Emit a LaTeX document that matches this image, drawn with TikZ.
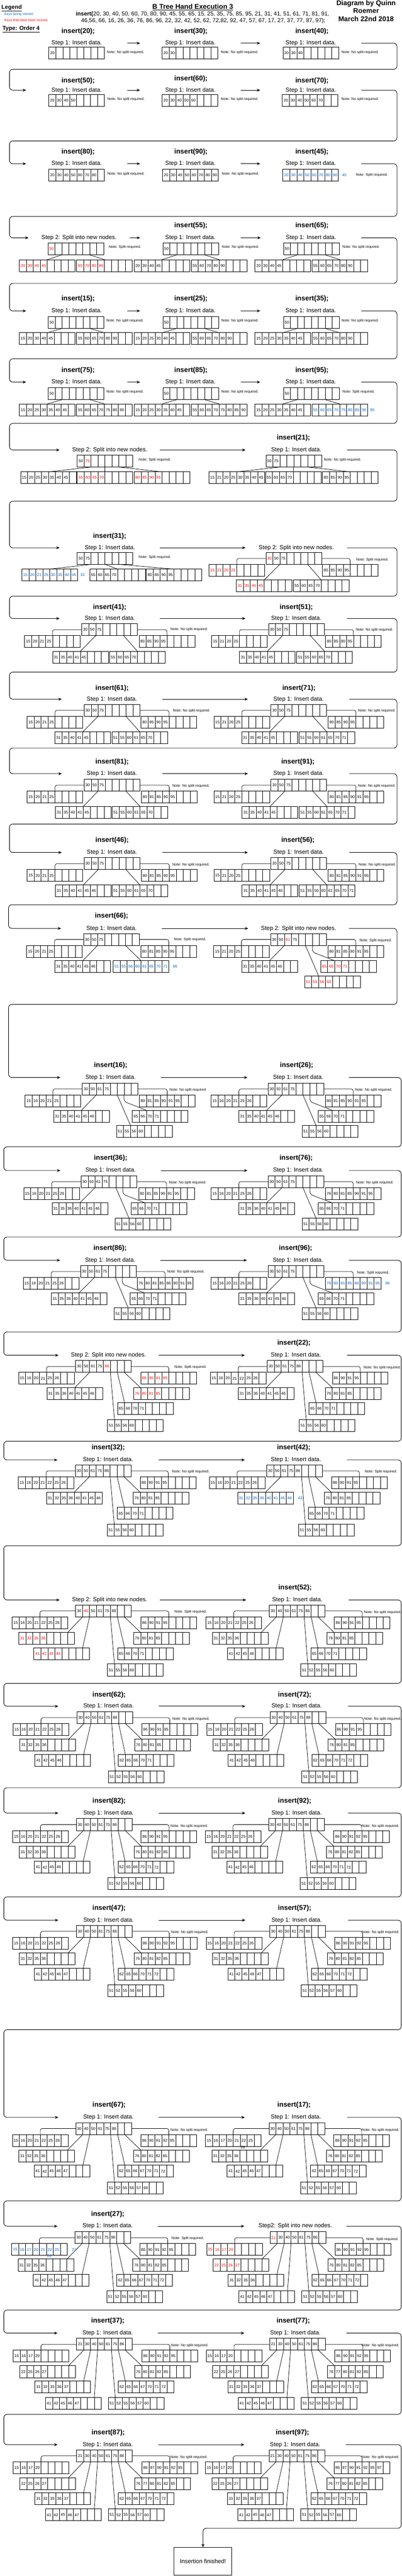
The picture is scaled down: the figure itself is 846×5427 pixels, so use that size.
\documentclass[tikz,border=0pt]{standalone}
\usepackage{fontspec}
\setmainfont{Liberation Sans}
\usetikzlibrary{calc,arrows.meta}
\definecolor{kred}{RGB}{255,0,0}
\definecolor{kblue}{RGB}{0,102,204}
\newcommand\keyr[1]{\textcolor{kred}{#1}}
\def\mycw{14.65}
\newcommand\mybn[5][black]{%
  \node[bn] (#2) at (#3,#4) {};
  \foreach \i in {1,...,7}{\draw[cellline] ($(#2.north west)+(\i*\mycw,0)$) -- ($(#2.south west)+(\i*\mycw,0)$);}
  \foreach \k [count=\j] in {#5}{\node[keyt,text=#1] at ($(#2.west)+(\j*\mycw-0.5*\mycw,0)$) {\k};}%
}
\newcommand\mylk[4]{\draw[link] ($(#1.south west)+(#2*\mycw,0)$) -- ($(#3.north west)+(#4*\mycw,0)$);}
\newcommand\mybl[3]{\draw[link,rounded corners=4pt] (#1.west) -| ($(#2.north west)+(#3*\mycw,0)$);}
\newcommand\mybr[3]{\draw[link,rounded corners=4pt] (#1.east) -| ($(#2.north west)+(#3*\mycw,0)$);}
\newcommand\mylc[4]{\draw[link,rounded corners=6pt] ($(#1.south west)+(#2*\mycw,0)$) -- ++(0,14) -- ($(#3.north west)+(#4*\mycw,0)$);}
\newcommand\mystep[5]{\node[stp,minimum width={#3-#2}] (#1) at ({(#2+#3)/2},#4) {#5};}
\newcommand\myttl[4]{\node[ttl] (#1) at (#2,#3) {#4};}
\newcommand\mynote[4]{\node[nte] (#1) at (#2,#3) {#4};}
\newcommand\myok{Note: No split required.}
\newcommand\mysplit{Note: Split required.}
\newcommand\mystepone{Step 1: Insert data.}
\newcommand\mysteptwo{Step 2: Split into new nodes.}
\newcommand\linkstwo[1]{\mylk{#1r}{2}{#1a}{4}\mylk{#1r}{6}{#1b}{4}}
\newcommand\linksthree[1]{\mylk{#1r}{2}{#1a}{4}\mylk{#1r}{4}{#1b}{4}\mylk{#1r}{6}{#1c}{4}}
\newcommand\linksfour[1]{\mybl{#1r}{#1a}{4}\mybr{#1r}{#1d}{4}\mylk{#1r}{2}{#1b}{4}\mylk{#1r}{6}{#1c}{4}}
\newcommand\linksfive[1]{\mybl{#1r}{#1a}{4}\mybr{#1r}{#1e}{4}\mylk{#1r}{2}{#1b}{4}\mylk{#1r}{5}{#1c}{2}\mylc{#1r}{6}{#1d}{2}}
\newcommand\linkssix[1]{\mybl{#1r}{#1a}{4}\mybr{#1r}{#1f}{4}\mylk{#1r}{2}{#1b}{4}\mylk{#1r}{5}{#1c}{1}\mylk{#1r}{6}{#1d}{1}\mylk{#1r}{7}{#1e}{1}}
\newcommand\linksseven[1]{\mybl{#1r}{#1a}{4}\mybr{#1r}{#1g}{4}\mylk{#1r}{1}{#1b}{7}\mylk{#1r}{2}{#1c}{7}\mylk{#1r}{5}{#1d}{1}\mylk{#1r}{6}{#1e}{1}\mylk{#1r}{7}{#1f}{1}}
\newcommand\linkseight[1]{\mybl{#1r}{#1a}{4}\mybr{#1r}{#1h}{4}\mylk{#1r}{1}{#1b}{7}\mylk{#1r}{2}{#1c}{7}\mylk{#1r}{3}{#1d}{7}\mylk{#1r}{5}{#1e}{1}\mylk{#1r}{6}{#1f}{1}\mylk{#1r}{7}{#1g}{1}}
\begin{document}
\begin{tikzpicture}[x=1pt,y=-1pt,
  bn/.style={draw,line width=0.9pt,minimum width=117.2pt,minimum height=25pt,inner sep=0pt,outer sep=0pt,anchor=north west},
  cellline/.style={line width=0.7pt},
  keyt/.style={font=\fontsize{8.3}{9}\selectfont,inner sep=0pt},
  ttl/.style={font=\bfseries\fontsize{14.5}{16}\selectfont,inner sep=0pt},
  stp/.style={font=\fontsize{12.4}{14}\selectfont,inner sep=0pt,outer sep=0pt,minimum height=12pt},
  nte/.style={font=\fontsize{7.6}{9}\selectfont,anchor=west,inner sep=0pt},
  link/.style={line width=0.8pt},
  flowl/.style={line width=1pt,-{Stealth[length=7pt,width=6pt]},rounded corners=7pt}]
\useasboundingbox (0,0) rectangle (846,5427);
\fill[white] (0,0) rectangle (846,5427);
% ---------- header ----------
\node[anchor=west,inner sep=0pt,font=\bfseries\fontsize{12}{14}\selectfont] (leg) at (3,17) {\underline{Legend}};
\node[anchor=west,inner sep=0pt,font=\fontsize{7.3}{9}\selectfont,text=kblue] (lg1) at (9,30) {Keys being moved.};
\node[anchor=west,inner sep=0pt,font=\fontsize{7.3}{9}\selectfont,text=kred] (lg2) at (9,43) {Keys that have been moved.};
\node[anchor=west,inner sep=0pt,font=\bfseries\fontsize{12}{14}\selectfont] (typ) at (5,61) {\underline{Type: Order 4}};
\node[inner sep=0pt,font=\bfseries\fontsize{14.5}{16}\selectfont] (ttlm) at (406,15) {\underline{B Tree Hand Execution 3}};
\node[inner sep=0pt,font=\fontsize{12}{14}\selectfont] (seq1) at (426.5,30) {\textbf{insert(}20, 30, 40, 50, 60, 70, 80, 90, 45, 55, 65, 15, 25, 35, 75, 85, 95, 21, 31, 41, 51, 61, 71, 81, 91,};
\node[inner sep=0pt,font=\fontsize{12}{14}\selectfont] (seq2) at (428,44) {46,56, 66, 16, 26, 36, 76, 86, 96, 22, 32, 42, 52, 62, 72,82, 92, 47, 57, 67, 17, 27, 37, 77, 87, 97);};
\node[inner sep=0pt,align=center,font=\bfseries\fontsize{14.5}{17}\selectfont] (auth) at (771,23) {Diagram by Quinn\\Roemer\\March 22nd 2018};
% ---------- row 1 ----------
\myttl{t1a}{164.5}{66}{insert(20);}\myttl{t1b}{402}{66}{insert(30);}\myttl{t1c}{657}{66}{insert(40);}
\mystep{s1a}{55}{268}{91}{\mystepone}\mystep{s1b}{295}{507}{91}{\mystepone}\mystep{s1c}{548}{761}{91}{\mystepone}
\mybn{q1a}{103}{99}{20}\mybn{q1b}{341.5}{99}{20,30}\mybn{q1c}{596}{99}{20,30,40}
\mynote{m1a}{225}{110}{\myok}\mynote{m1b}{465}{110}{\myok}\mynote{m1c}{719}{110}{\myok}
\draw[flowl] (s1a.east) -- (s1b.west);\draw[flowl] (s1b.east) -- (s1c.west);
% ---------- row 2 ----------
\myttl{t2a}{164.5}{170}{insert(50);}\myttl{t2b}{402}{166}{insert(60);}\myttl{t2c}{657}{170}{insert(70);}
\mystep{s2a}{55}{268}{190}{\mystepone}\mystep{s2b}{295}{507}{190}{\mystepone}\mystep{s2c}{548}{761}{190}{\mystepone}
\mybn{q2a}{102.6}{199}{20,30,40,50}\mybn{q2b}{341.5}{199}{20,30,40,50,60}\mybn{q2c}{594.6}{199}{20,30,40,50,60,70}
\mynote{m2a}{226}{209}{\myok}\mynote{m2b}{465}{209}{\myok}\mynote{m2c}{719}{209}{\myok}
\draw[flowl] (s2a.east) -- (s2b.west);\draw[flowl] (s2b.east) -- (s2c.west);
\draw[flowl] (s1c.east) -| (836,146) -| (20,190) -- (s2a.west);
% ---------- row 3 ----------
\myttl{t3a}{164.5}{320}{insert(80);}\myttl{t3b}{402}{320}{insert(90);}\myttl{t3c}{657}{320}{insert(45);}
\mystep{s3a}{55}{268}{345}{\mystepone}\mystep{s3b}{295}{507}{345}{\mystepone}\mystep{s3c}{548}{761}{345}{\mystepone}
\mybn{q3a}{103}{356}{20,30,40,50,60,70,80}\mybn{q3b}{342.6}{356}{20,30,40,50,60,70,80,90}\mybn[kblue]{q3c}{595.7}{356}{20,30,40,50,60,70,80,90}
\node[keyt,text=kblue] (o3c) at (725,368.5) {45};
\mynote{m3a}{226}{366}{\myok}\mynote{m3b}{467}{366}{\myok}\mynote{m3c}{749}{369}{\mysplit}
\draw[flowl] (s3a.east) -- (s3b.west);\draw[flowl] (s3b.east) -- (s3c.west);
\draw[flowl] (s2c.east) -| (836,297) -| (20,345) -- (s3a.west);
% ---------- row 4 ----------
\myttl{t4b}{402}{475}{insert(55);}\myttl{t4c}{657}{475}{insert(65);}
\mystep{s4a}{60}{273}{501}{\mysteptwo}\mystep{s4b}{295}{507}{501}{\mystepone}\mystep{s4c}{549}{761}{501}{\mystepone}
\mybn[kred]{q4ar}{101}{512}{50}\mybn[kred]{q4aa}{41}{547}{20,30,40,45}\mybn[kred]{q4ab}{161.5}{547}{60,70,80,90}\linkstwo{q4a}
\mybn{q4br}{343}{512}{50}\mybn{q4ba}{282.6}{547}{20,30,40,45}\mybn{q4bb}{403}{547}{55,60,70,80,90}\linkstwo{q4b}
\mybn{q4cr}{597}{512}{50}\mybn{q4ca}{537}{547}{20,30,40,45}\mybn{q4cb}{657}{547}{55,60,65,70,80,90}\linkstwo{q4c}
\mynote{m4a}{229}{521}{\mysplit}\mynote{m4b}{467}{521}{\myok}\mynote{m4c}{721}{521}{\myok}
\draw[flowl] (s4a.east) -- (s4b.west);\draw[flowl] (s4b.east) -- (s4c.west);
\draw[flowl] (s3c.east) -| (836,456) -| (20,501) -- (s4a.west);
% ---------- row 5 ----------
\myttl{t5a}{164.5}{630}{insert(15);}\myttl{t5b}{402}{630}{insert(25);}\myttl{t5c}{657}{630}{insert(35);}
\mystep{s5a}{55}{268}{655}{\mystepone}\mystep{s5b}{295}{507}{655}{\mystepone}\mystep{s5c}{548}{761}{655}{\mystepone}
\mybn{q5ar}{101.5}{667}{50}\mybn{q5aa}{41}{701}{15,20,30,40,45}\mybn{q5ab}{161.5}{701}{55,60,65,70,80,90}\linkstwo{q5a}
\mybn{q5br}{343}{667}{50}\mybn{q5ba}{282.6}{701}{15,20,25,30,40,45}\mybn{q5bb}{403}{701}{55,60,65,70,80,90}\linkstwo{q5b}
\mybn{q5cr}{597}{667}{50}\mybn{q5ca}{537}{701}{15,20,25,30,35,40,45}\mybn{q5cb}{657}{701}{55,60,65,70,80,90}\linkstwo{q5c}
\mynote{m5a}{224}{676}{\myok}\mynote{m5b}{466}{676}{\myok}\mynote{m5c}{719}{676}{\myok}
\draw[flowl] (s5a.east) -- (s5b.west);\draw[flowl] (s5b.east) -- (s5c.west);
\draw[flowl] (s4c.east) -| (836,597) -| (20,655) -- (s5a.west);
% ---------- row 6 ----------
\myttl{t6a}{164.5}{780}{insert(75);}\myttl{t6b}{402}{780}{insert(85);}\myttl{t6c}{657}{780}{insert(95);}
\mystep{s6a}{55}{268}{805}{\mystepone}\mystep{s6b}{295}{507}{805}{\mystepone}\mystep{s6c}{548}{761}{805}{\mystepone}
\mybn{q6ar}{101.5}{817}{50}\mybn{q6aa}{41}{851}{15,20,25,30,35,40,45}\mybn{q6ab}{161.5}{851}{55,60,65,70,75,80,90}\linkstwo{q6a}
\mybn{q6br}{343}{817}{50}\mybn{q6ba}{282.6}{851}{15,20,25,30,35,40,45}\mybn{q6bb}{403}{851}{55,60,65,70,75,80,85,90}\linkstwo{q6b}
\mybn{q6cr}{597}{817}{50}\mybn{q6ca}{537}{851}{15,20,25,30,35,40,45}\mybn[kblue]{q6cb}{657}{851}{55,60,65,70,75,80,85,90}\linkstwo{q6c}
\node[keyt,text=kblue] (o6c) at (784,863.5) {95};
\mynote{m6a}{224}{826}{\myok}\mynote{m6b}{466}{826}{\myok}\mynote{m6c}{721}{826}{\mysplit}
\draw[flowl] (s6a.east) -- (s6b.west);\draw[flowl] (s6b.east) -- (s6c.west);
\draw[flowl] (s5c.east) -| (836,756) -| (20,805) -- (s6a.west);
% ---------- row 7 ----------
\myttl{t7b}{618}{923}{insert(21);}
\mystep{s7a}{125.5}{337}{948}{\mysteptwo}\mystep{s7b}{517}{731}{948}{\mystepone}
\mybn{q7ar}{162.6}{959}{50,\keyr{75}}\mybn{q7aa}{43.6}{994}{15,20,25,30,35,40,45}\mybn[kred]{q7ab}{162.6}{994}{55,60,65,70}\mybn[kred]{q7ac}{282.6}{994}{80,85,90,95}\linksthree{q7a}
\mybn{q7br}{560}{959}{50,75}\mybn{q7ba}{440}{994}{15,21,20,25,30,35,40,45}\mybn{q7bb}{559}{994}{55,60,65,70}\mybn{q7bc}{679}{994}{80,85,90,95}\linksthree{q7b}
\mynote{m7a}{292}{969}{\mysplit}\mynote{m7b}{682}{969}{\myok}
\draw[flowl] (s7a.east) -- (s7b.west);
\draw[flowl] (s6c.east) -| (836,892) -| (20,948) -- (s7a.west);
% ---------- row 8 ----------
\myttl{t8a}{231}{1130}{insert(31);}
\mystep{s8a}{125.5}{337}{1154}{\mystepone}\mystep{s8b}{517}{731}{1154}{\mysteptwo}
\mybn{q8ar}{162.6}{1164}{50,75}\mybn[kblue]{q8aa}{46}{1199}{15,20,21,25,30,35,40,45}\mybn{q8ab}{189}{1199}{55,60,65,70}\mybn{q8ac}{308}{1199}{80,85,90,95}\linksthree{q8a}
\node[keyt,text=kblue] (o8a) at (174,1211.5) {31};
\mybn{q8br}{560}{1164}{\keyr{30},50,75}\mybn[kred]{q8ba}{440}{1189}{15,21,20,25}\mybn[kred]{q8bb}{498}{1221.5}{31,35,40,45}\mybn{q8bc}{617.6}{1221.5}{55,60,65,70}\mybn{q8bd}{679}{1189}{80,85,90,95}\linksfour{q8b}
\mynote{m8a}{292}{1174}{\mysplit}\mynote{m8b}{750}{1179}{\mysplit}
\draw[flowl] (s8a.east) -- (s8b.west);
\draw[flowl] (s7b.east) -| (836,1056) -| (20,1154) -- (s8a.west);
% ---------- row 9 ----------
\myttl{t9a}{231}{1280}{insert(41);}\myttl{t9b}{624}{1280}{insert(51);}
\mystep{s9a}{125.5}{337}{1303}{\mystepone}\mystep{s9b}{517}{731}{1303}{\mystepone}
\mybn{q9ar}{172.4}{1314}{30,50,75}\mybn{q9aa}{52}{1339}{15,20,21,25}\mybn{q9ab}{110.7}{1372}{31,35,40,41,45}\mybn{q9ac}{230.8}{1372}{55,60,65,70}\mybn{q9ad}{293}{1339}{80,85,90,95}\linksfour{q9a}
\mybn{q9br}{565.7}{1314}{30,50,75}\mybn{q9ba}{445.7}{1339}{15,21,20,25}\mybn{q9bb}{504.6}{1372}{31,35,40,41,45}\mybn{q9bc}{624.7}{1372}{51,55,60,65,70}\mybn{q9bd}{685.8}{1339}{80,85,90,95}\linksfour{q9b}
\mynote{m9a}{359}{1326}{\myok}\mynote{m9b}{749}{1327}{\myok}
\draw[flowl] (s9a.east) -- (s9b.west);
\draw[flowl] (s8b.east) -| (836,1256) -| (20,1303) -- (s9a.west);
% ---------- row 10 ----------
\myttl{t10a}{236}{1450}{insert(61);}\myttl{t10b}{629.6}{1450}{insert(71);}
\mystep{s10a}{130}{341.5}{1473}{\mystepone}\mystep{s10b}{522}{735.4}{1473}{\mystepone}
\mybn{q10ar}{177.3}{1484}{30,50,75}\mybn{q10aa}{57.3}{1509}{15,20,21,25}\mybn{q10ab}{115.7}{1541.7}{31,35,40,41,45}\mybn{q10ac}{235.7}{1541.7}{51,55,60,61,65,70}\mybn{q10ad}{297.3}{1509}{80,85,90,95}\linksfour{q10a}
\mybn{q10br}{570.7}{1484}{30,50,75}\mybn{q10ba}{450.6}{1509}{15,21,20,25}\mybn{q10bb}{509}{1541.7}{31,35,40,41,45}\mybn{q10bc}{629.6}{1541.7}{51,55,60,61,65,70,71}\mybn{q10bd}{691.2}{1509}{80,85,90,95}\linksfour{q10b}
\mynote{m10a}{364}{1498}{\myok}\mynote{m10b}{754}{1497}{\myok}
\draw[flowl] (s10a.east) -- (s10b.west);
\draw[flowl] (s9b.east) -| (836,1416) -| (20,1473) -- (s10a.west);
% ---------- row 11 ----------
\myttl{t11a}{236}{1605}{insert(81);}\myttl{t11b}{627.4}{1605}{insert(91);}
\mystep{s11a}{130}{341.5}{1630}{\mystepone}\mystep{s11b}{522}{735.4}{1630}{\mystepone}
\mybn{q11ar}{177.3}{1641.7}{30,50,75}\mybn{q11aa}{57.3}{1666.7}{15,20,21,25}\mybn{q11ab}{116.7}{1699}{31,35,40,41,45}\mybn{q11ac}{236.2}{1699}{51,55,60,61,65,70}\mybn{q11ad}{297.9}{1666.7}{80,81,85,90,95}\linksfour{q11a}
\mybn{q11br}{570.7}{1641.7}{30,50,75}\mybn{q11ba}{450.6}{1666.7}{15,21,20,25}\mybn{q11bb}{510}{1699}{31,35,40,41,45}\mybn{q11bc}{630}{1699}{51,55,60,61,65,70,71}\mybn{q11bd}{691.2}{1666.7}{80,81,85,90,91,95}\linksfour{q11b}
\mynote{m11a}{362.8}{1656}{\myok}\mynote{m11b}{754}{1656}{\myok}
\draw[flowl] (s11a.east) -- (s11b.west);
\draw[flowl] (s10b.east) -| (836,1576) -| (20,1630) -- (s11a.west);
% ---------- row 12 ----------
\myttl{t12a}{236}{1770}{insert(46);}\myttl{t12b}{627.4}{1770}{insert(56);}
\mystep{s12a}{130}{341.5}{1796}{\mystepone}\mystep{s12b}{522}{735.4}{1796}{\mystepone}
\mybn{q12ar}{177.3}{1807}{30,50,75}\mybn{q12aa}{57.3}{1832}{15,20,21,25}\mybn{q12ab}{116.7}{1864.5}{31,35,40,41,45,46}\mybn{q12ac}{236.2}{1864.5}{51,55,60,61,65,70}\mybn{q12ad}{297.9}{1832}{80,81,85,90,95}\linksfour{q12a}
\mybn{q12br}{570.7}{1807}{30,50,75}\mybn{q12ba}{450.6}{1832}{15,21,20,25}\mybn{q12bb}{510}{1864.5}{31,35,40,41,45,46}\mybn{q12bc}{630}{1864.5}{51,55,56,60,61,65,70,71}\mybn{q12bd}{691.2}{1832}{80,81,85,90,91,95}\linksfour{q12b}
\mynote{m12a}{362.8}{1822}{\myok}\mynote{m12b}{755}{1822}{\myok}
\draw[flowl] (s12a.east) -- (s12b.west);
\draw[flowl] (s11b.east) -| (836,1736) -| (20,1796) -- (s12a.west);
% ---------- row 13 ----------
\myttl{t13a}{235}{1930}{insert(66);}
\mystep{s13a}{128.7}{341}{1956}{\mystepone}\mystep{s13b}{522.6}{735}{1956}{\mysteptwo}
\mybn{q13ar}{176.2}{1966.7}{30,50,75}\mybn{q13aa}{56.2}{1991.7}{15,20,21,25}\mybn{q13ab}{115.7}{2024}{31,35,40,41,45,46}\mybn[kblue]{q13ac}{238.4}{2024}{51,55,56,60,61,65,70,71}\mybn{q13ad}{296.8}{1991.7}{80,81,85,90,95}\linksfour{q13a}
\node[keyt,text=kblue] (o13a) at (369,2036.5) {66};
\mybn{q13br}{570}{1966.7}{30,50,\keyr{61},75}\mybn{q13ba}{450}{1991.7}{15,21,20,25}\mybn{q13bb}{509}{2024}{31,35,40,41,45,46}\mybn[kred]{q13bc}{641.6}{2056}{51,55,56,60}\mybn[kred]{q13bd}{675.4}{2024}{65,66,70,71}\mybn{q13be}{690.7}{1991.7}{80,81,85,90,91,95}\linksfive{q13b}
\mynote{m13a}{366}{1979}{\mysplit}\mynote{m13b}{757}{1982}{\mysplit}
\draw[flowl] (s13a.east) -- (s13b.west);
\draw[flowl] (s12b.east) -| (836,1906) -| (18,1956) -- (s13a.west);
% ---------- row 14 ----------
\myttl{t14a}{233}{2245}{insert(16);}\myttl{t14b}{624.6}{2245}{insert(26);}
\mystep{s14a}{127}{338.8}{2270}{\mystepone}\mystep{s14b}{521}{735}{2270}{\mystepone}
\mybn{q14ar}{173.5}{2281.7}{30,50,61,75}\mybn{q14aa}{53}{2306.7}{15,16,20,21,25}\mybn{q14ab}{113}{2339}{31,35,40,41,45,46}\mybn{q14ac}{245.5}{2370.7}{51,55,56,60}\mybn{q14ad}{278.8}{2339}{65,66,70,71}\mybn{q14ae}{293.5}{2306.7}{80,81,85,90,91,95}\linksfive{q14a}
\mybn{q14br}{564.7}{2281.7}{30,50,61,75}\mybn{q14ba}{444.6}{2306.7}{15,16,20,21,25,26}\mybn{q14bb}{503}{2339}{31,35,40,41,45,46}\mybn{q14bc}{636.1}{2370.7}{51,55,56,60}\mybn{q14bd}{670}{2339}{65,66,70,71}\mybn{q14be}{685.2}{2306.7}{80,81,85,90,91,95}\linksfive{q14b}
\mynote{m14a}{356.8}{2296}{\myok}\mynote{m14b}{747.4}{2296}{\myok}
\draw[flowl] (s14a.east) -- (s14b.west);
\draw[flowl] (s13b.east) -| (836,2116) -| (18,2270) -- (s14a.west);
% ---------- row 15 ----------
\myttl{t15a}{233}{2440}{insert(36);}\myttl{t15b}{623.6}{2440}{insert(76);}
\mystep{s15a}{127}{338.8}{2466}{\mystepone}\mystep{s15b}{521}{735}{2466}{\mystepone}
\mybn{q15ar}{170.8}{2477}{30,50,61,75}\mybn{q15aa}{50.2}{2502}{15,16,20,21,25,26}\mybn{q15ab}{109.7}{2534}{31,35,36,40,41,45,46}\mybn{q15ac}{242.2}{2566}{51,55,56,60}\mybn{q15ad}{276}{2534}{65,66,70,71}\mybn{q15ae}{291.9}{2502}{80,81,85,90,91,95}\linksfive{q15a}
\mybn{q15br}{564.7}{2477}{30,50,61,75}\mybn{q15ba}{444.6}{2502}{15,16,20,21,25,26}\mybn{q15bb}{503}{2534}{31,35,36,40,41,45,46}\mybn{q15bc}{636.1}{2566}{51,55,56,60}\mybn{q15bd}{670}{2534}{65,66,70,71}\mybn{q15be}{685.2}{2502}{76,80,81,85,90,91,95}\linksfive{q15b}
\mynote{m15a}{355.7}{2492}{\myok}\mynote{m15b}{750}{2492}{\myok}
\draw[flowl] (s15a.east) -- (s15b.west);
\draw[flowl] (s14b.east) -| (845,2416) -| (8,2466) -- (s15a.west);
% ---------- row 16 ----------
\myttl{t16a}{231.8}{2630}{insert(86);}\myttl{t16b}{622.5}{2630}{insert(96);}
\mystep{s16a}{126.6}{337.7}{2655}{\mystepone}\mystep{s16b}{520}{735}{2655}{\mystepone}
\mybn{q16ar}{169.7}{2666.3}{30,50,61,75}\mybn{q16aa}{49.1}{2691.3}{15,16,20,21,25,26}\mybn{q16ab}{108}{2723.7}{31,35,36,40,41,45,46}\mybn{q16ac}{240.6}{2755.3}{51,55,56,60}\mybn{q16ad}{274.4}{2723.7}{65,66,70,71}\mybn{q16ae}{289.1}{2691.3}{76,80,81,85,86,90,91,95}\linksfive{q16a}
\mybn{q16br}{564.7}{2666.3}{30,50,61,75}\mybn{q16ba}{444.6}{2691.3}{15,16,20,21,25,26}\mybn{q16bb}{503}{2723.7}{31,35,36,40,41,45,46}\mybn{q16bc}{636.1}{2755.3}{51,55,56,60}\mybn{q16bd}{670}{2723.7}{65,66,70,71}\mybn[kblue]{q16be}{685.2}{2691.3}{76,80,81,85,86,90,91,95}\linksfive{q16b}
\node[keyt,text=kblue] (o16b) at (816,2703.8) {96};
\mynote{m16a}{351.9}{2679}{\myok}\mynote{m16b}{751.8}{2682}{\mysplit}
\draw[flowl] (s16a.east) -- (s16b.west);
\draw[flowl] (s15b.east) -| (845,2606) -| (8,2655) -- (s16a.west);
% ---------- row 17 ----------
\myttl{t17b}{619}{2830}{insert(22);}
\mystep{s17a}{123.3}{333.9}{2855.3}{\mysteptwo}\mystep{s17b}{515.5}{731}{2855.3}{\mystepone}
\mybn{q17ar}{159.3}{2866.3}{30,50,61,75,\keyr{86}}\mybn{q17aa}{39.3}{2891.3}{15,16,20,21,25,26}\mybn{q17ab}{98.7}{2923.7}{31,35,36,40,41,45,46}\mybn{q17ac}{226.4}{2990.7}{51,55,56,60}\mybn{q17ad}{247.7}{2955.3}{65,66,70,71}\mybn[kred]{q17ae}{281.5}{2923.7}{76,80,81,85}\mybn[kred]{q17af}{296.8}{2891.3}{86,90,91,95}\linkssix{q17a}
\mybn{q17br}{563}{2866.3}{30,50,61,75,86}\mybn{q17ba}{443}{2891.3}{15,16,20,21,22,25,26}\mybn{q17bb}{501.9}{2923.7}{31,35,36,40,41,45,46}\mybn{q17bc}{630.1}{2990.7}{51,55,56,60}\mybn{q17bd}{650.9}{2955.3}{65,66,70,71}\mybn{q17be}{685.2}{2923.7}{76,80,81,85}\mybn{q17bf}{700}{2891.3}{86,90,91,95}\linkssix{q17b}
\mynote{m17a}{367.2}{2880.7}{\mysplit}\mynote{m17b}{765.4}{2881}{\myok}
\draw[flowl] (s17a.east) -- (s17b.west);
\draw[flowl] (s16b.east) -| (845,2806) -| (8,2855.3) -- (s17a.west);
% ---------- row 18 ----------
\myttl{t18a}{228}{3050.3}{insert(32);}\myttl{t18b}{618.6}{3050.3}{insert(42);}
\mystep{s18a}{121}{333.9}{3075.7}{\mystepone}\mystep{s18b}{515.5}{731}{3075.7}{\mystepone}
\mybn{q18ar}{158.8}{3086.3}{30,50,61,75,86}\mybn{q18aa}{38.7}{3111.3}{15,16,20,21,22,25,26}\mybn{q18ab}{97.7}{3143.7}{31,32,35,36,40,41,45,46}\mybn{q18ac}{225.9}{3210.7}{51,55,56,60}\mybn{q18ad}{247.1}{3175.7}{65,66,70,71}\mybn{q18ae}{280.4}{3143.7}{76,80,81,85}\mybn{q18af}{295.7}{3111.3}{86,90,91,95}\linkssix{q18a}
\mybn{q18br}{561.9}{3086.3}{30,50,61,75,86}\mybn{q18ba}{440.8}{3111.3}{15,16,20,21,22,25,26}\mybn[kblue]{q18bb}{500.3}{3143.7}{31,32,35,36,40,41,45,46}\mybn{q18bc}{628.5}{3210.7}{51,55,56,60}\mybn{q18bd}{649.2}{3175.7}{65,66,70,71}\mybn{q18be}{683}{3143.7}{76,80,81,85}\mybn{q18bf}{698.3}{3111.3}{86,90,91,95}\linkssix{q18b}
\node[keyt,text=kblue] (o18b) at (632,3156) {42};
\mynote{m18a}{362.2}{3101}{\myok}\mynote{m18b}{768.1}{3101}{\mysplit}
\draw[flowl] (s18a.east) -- (s18b.west);
\draw[flowl] (s17b.east) -| (845,3036.3) -| (8,3075.7) -- (s18a.west);
% ---------- row 19 ----------
\myttl{t19b}{621.4}{3345}{insert(52);}
\mystep{s19a}{125.5}{336.6}{3370.7}{\mysteptwo}\mystep{s19b}{518.3}{734}{3370.7}{\mystepone}
\mybn{q19ar}{159.3}{3381.3}{30,\keyr{40},50,61,75,86}\mybn{q19aa}{25.6}{3406.3}{15,16,20,21,22,25,26}\mybn[kred]{q19ab}{39.8}{3439.3}{31,32,35,36}\mybn[kred]{q19ac}{71.5}{3471.3}{41,42,45,46}\mybn{q19ad}{226.4}{3505.7}{51,55,56,60}\mybn{q19ae}{247.7}{3471.3}{65,66,70,71}\mybn{q19af}{281.5}{3439.3}{76,80,81,85}\mybn{q19ag}{296.8}{3406.3}{86,90,91,95}\linksseven{q19a}
\mybn{q19br}{567.4}{3381.3}{30,40,50,61,75,86}\mybn{q19ba}{433.7}{3406.3}{15,16,20,21,22,25,26}\mybn{q19bb}{447.4}{3439.3}{31,32,35,36}\mybn{q19bc}{479}{3471.3}{41,42,45,46}\mybn{q19bd}{633.4}{3505.7}{51,52,55,56,60}\mybn{q19be}{654.7}{3471.3}{65,66,70,71}\mybn{q19bf}{689}{3439.3}{76,80,81,85}\mybn{q19bg}{704.3}{3406.3}{86,90,91,95}\linksseven{q19b}
\mynote{m19a}{367.2}{3396}{\mysplit}\mynote{m19b}{766.5}{3397}{\myok}
\draw[flowl] (s19a.east) -- (s19b.west);
\draw[flowl] (s18b.east) -| (845,3256.3) -| (8,3370.7) -- (s19a.west);
% ---------- row 20 ----------
\myttl{t20a}{229.7}{3570.7}{insert(62);}\myttl{t20b}{620.6}{3570.7}{insert(72);}
\mystep{s20a}{122.7}{334.4}{3594.7}{\mystepone}\mystep{s20b}{516.6}{733}{3594.7}{\mystepone}
\mybn{q20ar}{162}{3606.3}{30,40,50,61,75,86}\mybn{q20aa}{27.8}{3631.3}{15,16,20,21,22,25,26}\mybn{q20ab}{42}{3664}{31,32,35,36}\mybn{q20ac}{73.6}{3696}{41,42,45,46}\mybn{q20ad}{228}{3730.7}{51,52,55,56,60}\mybn{q20ae}{249.3}{3696}{62,65,66,70,71}\mybn{q20af}{283.7}{3664}{76,80,81,85}\mybn{q20ag}{299}{3631.3}{86,90,91,95}\linksseven{q20a}
\mybn{q20br}{569}{3606.3}{30,40,50,61,75,86}\mybn{q20ba}{435.4}{3631.3}{15,16,20,21,22,25,26}\mybn{q20bb}{449}{3664}{31,32,35,36}\mybn{q20bc}{480.6}{3696}{41,42,45,46}\mybn{q20bd}{635.6}{3730.7}{51,52,55,56,60}\mybn{q20be}{656.8}{3696}{62,65,66,70,71,72}\mybn{q20bf}{691.2}{3664}{76,80,81,85}\mybn{q20bg}{706.5}{3631.3}{86,90,91,95}\linksseven{q20b}
\mynote{m20a}{362.8}{3621.7}{\myok}\mynote{m20b}{766.5}{3621.7}{\myok}
\draw[flowl] (s20a.east) -- (s20b.west);
\draw[flowl] (s19b.east) -| (845,3546.3) -| (8,3594.7) -- (s20a.west);
% ---------- row 21 ----------
\myttl{t21a}{229.7}{3795}{insert(82);}\myttl{t21b}{620.6}{3795}{insert(92);}
\mystep{s21a}{122.7}{334.4}{3819.7}{\mystepone}\mystep{s21b}{516.6}{733}{3819.7}{\mystepone}
\mybn{q21ar}{161}{3831.3}{30,40,50,61,75,86}\mybn{q21aa}{26.7}{3856.3}{15,16,20,21,22,25,26}\mybn{q21ab}{40.9}{3889.3}{31,32,35,36}\mybn{q21ac}{72.6}{3921.3}{41,42,45,46}\mybn{q21ad}{227}{3955.3}{51,52,55,56,60}\mybn{q21ae}{248.8}{3921.3}{62,65,66,70,71,72}\mybn{q21af}{282.6}{3889.3}{76,80,81,82,85}\mybn{q21ag}{297.3}{3856.3}{86,90,91,95}\linksseven{q21a}
\mybn{q21br}{565.7}{3831.3}{30,40,50,61,75,86}\mybn{q21ba}{432}{3856.3}{15,16,20,21,22,25,26}\mybn{q21bb}{446.3}{3889.3}{31,32,35,36}\mybn{q21bc}{478}{3921.3}{41,42,45,46}\mybn{q21bd}{632.3}{3955.3}{51,52,55,56,60}\mybn{q21be}{653.6}{3921.3}{62,65,66,70,71,72}\mybn{q21bf}{688}{3889.3}{76,80,81,82,85}\mybn{q21bg}{703.2}{3856.3}{86,90,91,92,95}\linksseven{q21b}
\mynote{m21a}{359}{3847.3}{\myok}\mynote{m21b}{762}{3847.3}{\myok}
\draw[flowl] (s21a.east) -- (s21b.west);
\draw[flowl] (s20b.east) -| (845,3766.3) -| (8,3819.7) -- (s21a.west);
% ---------- row 22 ----------
\myttl{t22a}{229.7}{4020.3}{insert(47);}\myttl{t22b}{620.6}{4020.3}{insert(57);}
\mystep{s22a}{122.7}{334.4}{4045.3}{\mystepone}\mystep{s22b}{516.6}{733}{4045.3}{\mystepone}
\mybn{q22ar}{161}{4056.3}{30,40,50,61,75,86}\mybn{q22aa}{26.7}{4081.3}{15,16,20,21,22,25,26}\mybn{q22ab}{40.9}{4114.3}{31,32,35,36}\mybn{q22ac}{72.6}{4146.3}{41,42,45,46,47}\mybn{q22ad}{227}{4181}{51,52,55,56,60}\mybn{q22ae}{248.8}{4146.3}{62,65,66,70,71,72}\mybn{q22af}{282.6}{4114.3}{76,80,81,82,85}\mybn{q22ag}{297.9}{4081.3}{86,90,91,92,95}\linksseven{q22a}
\mybn{q22br}{568}{4056.3}{30,40,50,61,75,86}\mybn{q22ba}{434.3}{4081.3}{15,16,20,21,22,25,26}\mybn{q22bb}{447.4}{4114.3}{31,32,35,36}\mybn{q22bc}{480}{4146.3}{41,42,45,46,47}\mybn{q22bd}{634.5}{4181}{51,52,55,56,57,60}\mybn{q22be}{655.8}{4146.3}{62,65,66,70,71,72}\mybn{q22bf}{689.6}{4114.3}{76,80,81,82,85}\mybn{q22bg}{704.9}{4081.3}{86,90,91,92,95}\linksseven{q22b}
\mynote{m22a}{360}{4071}{\myok}\mynote{m22b}{762}{4071}{\myok}
\draw[flowl] (s22a.east) -- (s22b.west);
\draw[flowl] (s21b.east) -| (845,3996.3) -| (8,4045.3) -- (s22a.west);
% ---------- row 23 ----------
\myttl{t23a}{229.7}{4435}{insert(67);}\myttl{t23b}{619.2}{4435}{insert(17);}
\mystep{s23a}{122.7}{333.9}{4460.7}{\mystepone}\mystep{s23b}{515.5}{731}{4460.7}{\mystepone}
\mybn{q23ar}{159.8}{4471.7}{30,40,50,61,75,86}\mybn{q23aa}{26.2}{4496.7}{15,16,20,21,22,25,26}\mybn{q23ab}{39.8}{4529.3}{31,32,35,36}\mybn{q23ac}{72}{4561.7}{41,42,45,46,47}\mybn{q23ad}{226.4}{4596.7}{51,52,55,56,57,60}\mybn{q23ae}{248.2}{4561.7}{62,65,66,67,70,71,72}\mybn{q23af}{281.5}{4529.3}{76,80,81,82,85}\mybn{q23ag}{296.8}{4496.7}{86,90,91,92,95}\linksseven{q23a}
\mybn{q23br}{566.8}{4471.7}{30,40,50,61,75,86}\mybn{q23ba}{432.6}{4496.7}{15,16,17,20,21,22,25}\mybn{q23bb}{446.3}{4529.3}{31,32,35,36}\mybn{q23bc}{478.5}{4561.7}{41,42,45,46,47}\mybn{q23bd}{632.8}{4596.7}{51,52,55,56,57,60}\mybn{q23be}{654.1}{4561.7}{62,65,66,67,70,71,72}\mybn{q23bf}{688}{4529.3}{76,80,81,82,85}\mybn{q23bg}{703.2}{4496.7}{86,90,91,92,95}\linksseven{q23b}
\node[keyt] (o23b) at (511.7,4524) {26};
\mynote{m23a}{359}{4487.3}{\myok}\mynote{m23b}{762}{4487.3}{\myok}
\draw[flowl] (s23a.east) -- (s23b.west);
\draw[flowl] (s22b.east) -| (845,4276) -| (8,4460.7) -- (s23a.west);
% ---------- row 24 ----------
\myttl{t24a}{227}{4665.3}{insert(27);}
\mystep{s24a}{121.1}{332.2}{4690}{\mystepone}\mystep{s24b}{514.5}{729.4}{4690}{Step2: Split into new nodes.}
\mybn{q24ar}{158.2}{4701.7}{30,40,50,61,75,86}\mybn[kblue]{q24aa}{24.5}{4726.7}{15,16,17,20,21,22,25}\mybn{q24ab}{38.2}{4759.3}{31,32,35,36}\mybn{q24ac}{70.4}{4791.7}{41,42,45,46,47}\mybn{q24ad}{224.8}{4825.7}{51,52,55,56,57,60}\mybn{q24ae}{246}{4791.7}{62,65,66,67,70,71,72}\mybn{q24af}{279.9}{4759.3}{76,80,81,82,85}\mybn{q24ag}{294.6}{4726.7}{86,90,91,92,95}\linksseven{q24a}
\node[keyt,text=kblue] (o24a) at (103.7,4752.7) {26};
\node[keyt,text=kblue] (p24a) at (156,4739.2) {27};
\mybn{q24br}{569}{4701.7}{\keyr{21},30,40,50,61,75,86}\mybn[kred]{q24ba}{435.4}{4726.7}{15,16,17,20}\mybn[kred]{q24bb}{449}{4759.3}{22,25,26,27}\mybn{q24bc}{480.6}{4791.7}{31,32,35,36}\mybn{q24bd}{503}{4825.7}{41,42,45,46,47}\mybn{q24be}{635.6}{4825.7}{51,52,55,56,57,60}\mybn{q24bf}{656.8}{4791.7}{62,65,66,67,70,71,72}\mybn{q24bg}{690.7}{4759.3}{76,80,81,82,85}\mybn{q24bh}{706}{4726.7}{86,90,91,92,95}\linkseight{q24b}
\mynote{m24a}{361.2}{4716}{\mysplit}\mynote{m24b}{770.9}{4717.3}{\mysplit}
\draw[flowl] (s24a.east) -- (s24b.west);
\draw[flowl] (s23b.east) -| (845,4636.7) -| (8,4690) -- (s24a.west);
% ---------- row 25 ----------
\myttl{t25a}{227}{4890}{insert(37);}\myttl{t25b}{617.5}{4890}{insert(77);}
\mystep{s25a}{121.1}{332.2}{4915.3}{\mystepone}\mystep{s25b}{514.5}{729.4}{4915.3}{\mystepone}
\mybn{q25ar}{161.5}{4926.3}{21,30,40,50,61,75,86}\mybn{q25aa}{27.8}{4951.3}{15,16,17,20}\mybn{q25ab}{42}{4984}{22,25,26,27}\mybn{q25ac}{73.6}{5016.3}{31,32,35,36,37}\mybn{q25ad}{96}{5050.7}{41,42,45,46,47}\mybn{q25ae}{228}{5050.7}{51,52,55,56,57,60}\mybn{q25af}{249.3}{5016.3}{62,65,66,67,70,71,72}\mybn{q25ag}{283.7}{4984}{76,80,81,82,85}\mybn{q25ah}{299}{4951.3}{86,90,91,92,95}\linkseight{q25a}
\mybn{q25br}{568}{4926.3}{21,30,40,50,61,75,86}\mybn{q25ba}{434.3}{4951.3}{15,16,17,20}\mybn{q25bb}{447.9}{4984}{22,25,26,27}\mybn{q25bc}{480}{5016.3}{31,32,35,36,37}\mybn{q25bd}{501.9}{5050.7}{41,42,45,46,47}\mybn{q25be}{634.5}{5050.7}{51,52,55,56,57,60}\mybn{q25bf}{655.8}{5016.3}{62,65,66,67,70,71,72}\mybn{q25bg}{690.1}{4984}{76,77,80,81,82,85}\mybn{q25bh}{705.4}{4951.3}{86,90,91,92,95}\linkseight{q25b}
\mynote{m25a}{360}{4941.5}{\myok}\mynote{m25b}{762}{4941.5}{\myok}
\draw[flowl] (s25a.east) -- (s25b.west);
\draw[flowl] (s24b.east) -| (845,4866.7) -| (8,4915.3) -- (s25a.west);
% ---------- row 26 ----------
\myttl{t26a}{227.8}{5125.3}{insert(87);}\myttl{t26b}{616}{5125.3}{insert(97);}
\mystep{s26a}{121.1}{332.8}{5150.3}{\mystepone}\mystep{s26b}{514.5}{728.3}{5150.3}{\mystepone}
\mybn{q26ar}{161.5}{5161.3}{21,30,40,50,61,75,86}\mybn{q26aa}{27.8}{5186.3}{15,16,17,20}\mybn{q26ab}{42}{5219.7}{22,25,26,27}\mybn{q26ac}{73.6}{5251.3}{31,32,35,36,37}\mybn{q26ad}{96}{5285.7}{41,42,45,46,47}\mybn{q26ae}{228}{5285.7}{51,52,55,56,57,60}\mybn{q26af}{249.3}{5251.3}{62,65,66,67,70,71,72}\mybn{q26ag}{283.7}{5219.7}{76,77,80,81,82,85}\mybn{q26ah}{299}{5186.3}{86,87,90,91,92,95}\linkseight{q26a}
\mybn{q26br}{566.8}{5161.3}{21,30,40,50,61,75,86}\mybn{q26ba}{432.6}{5186.3}{15,16,17,20}\mybn{q26bb}{446.3}{5219.7}{22,25,26,27}\mybn{q26bc}{479}{5251.3}{31,32,35,36,37}\mybn{q26bd}{500.8}{5285.7}{41,42,45,46,47}\mybn{q26be}{633.4}{5285.7}{51,52,55,56,57,60}\mybn{q26bf}{654.7}{5251.3}{62,65,66,67,70,71,72}\mybn{q26bg}{688.5}{5219.7}{76,77,80,81,82,85}\mybn{q26bh}{703.8}{5186.3}{86,87,90,91,92,95,97}\linkseight{q26b}
\mynote{m26a}{358.4}{5176.5}{\myok}\mynote{m26b}{762}{5176.5}{\myok}
\draw[flowl] (s26a.east) -- (s26b.west);
\draw[flowl] (s25b.east) -| (845,5086.3) -| (8,5150.3) -- (s26a.west);
% ---------- end ----------
\node[draw,line width=1pt,minimum width=121.7pt,minimum height=59pt,inner sep=0pt,outer sep=0pt,anchor=north,font=\fontsize{12.4}{14}\selectfont] (fin) at (427.5,5366.3) {Insertion finished!};
\draw[flowl] (s26b.east) -| (845,5326.3) -| (fin.north);
\end{tikzpicture}
\end{document}
